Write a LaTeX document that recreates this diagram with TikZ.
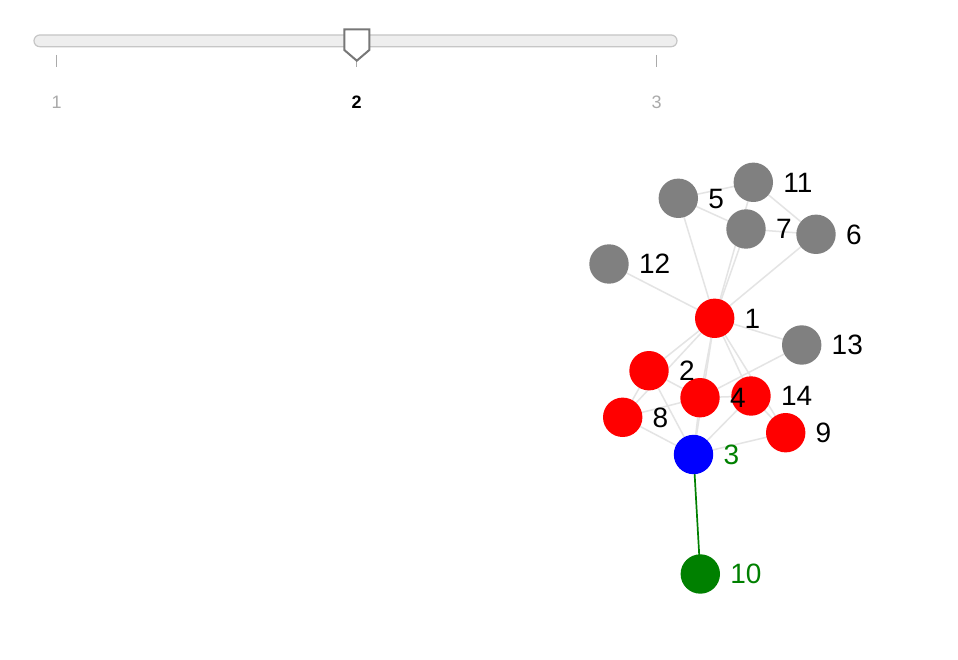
\documentclass[tikz,border=0pt]{standalone}
\usepackage{fontspec}
\setmainfont{Liberation Sans}
\definecolor{edgegray}{HTML}{E4E4E4}
\definecolor{nodegray}{HTML}{808080}
\definecolor{dgreen}{HTML}{008000}
\definecolor{trackfill}{HTML}{EEEEEE}
\definecolor{trackline}{HTML}{C6C6C6}
\definecolor{tickgray}{HTML}{AAAAAA}
\definecolor{handleline}{HTML}{777777}
\begin{document}
\begin{tikzpicture}[x=1pt,y=-1pt,
  nd/.style={circle,draw=none,minimum size=39.4pt,inner sep=0pt,outer sep=0pt},
  lbl/.style={anchor=base west,inner sep=0pt,outer sep=0pt,font=\fontsize{28}{30}\selectfont},
  edge/.style={draw=edgegray,line width=1.5pt},
  hedge/.style={draw=dgreen,line width=1.7pt},
  tick/.style={draw=tickgray,line width=1pt},
  ticklbl/.style={anchor=base,inner sep=0pt,font=\fontsize{18}{20}\selectfont}]
\useasboundingbox[fill=white] (0,0) rectangle (958,660);

% slider
\draw[fill=trackfill,draw=trackline,line width=1.2pt,rounded corners=5.8pt] (34,35) rectangle (677,46.7);
\coordinate (t1a) at (56.7,55); \coordinate (t1b) at (56.7,66.7);
\coordinate (t2a) at (356.7,55); \coordinate (t2b) at (356.7,66.7);
\coordinate (t3a) at (656.7,55); \coordinate (t3b) at (656.7,66.7);
\draw[tick] (t1a) -- (t1b);
\draw[tick] (t2a) -- (t2b);
\draw[tick] (t3a) -- (t3b);
\draw[fill=white,draw=handleline,line width=2pt,line join=miter]
  (344.3,29.3) -- (369.3,29.3) -- (369.3,50) -- (356.8,60.7) -- (344.3,50) -- cycle;
\node[ticklbl,text=tickgray] (s1) at (56.7,108.3) {1};
\node[ticklbl,text=black,font=\fontsize{18}{20}\selectfont\bfseries] (s2) at (356.7,108.3) {2};
\node[ticklbl,text=tickgray] (s3) at (656.7,108.3) {3};

% node positions
\coordinate (p1) at (714.7,318.3);
\coordinate (p2) at (649,370.7);
\coordinate (p3) at (693.5,454.5);
\coordinate (p4) at (700,397.7);
\coordinate (p5) at (678.3,198.3);
\coordinate (p6) at (816,234.3);
\coordinate (p7) at (746,229);
\coordinate (p8) at (622.7,417.3);
\coordinate (p9) at (785.7,432.7);
\coordinate (p10) at (700.3,574);
\coordinate (p11) at (753.3,182.3);
\coordinate (p12) at (609,264);
\coordinate (p13) at (801.7,345);
\coordinate (p14) at (751,396);

% edges
\foreach \a/\b in {1/2,1/3,1/4,1/5,1/6,1/7,1/8,1/9,1/11,1/12,1/13,1/14,
  2/3,2/4,2/8,3/4,3/8,3/9,3/14,4/8,4/13,4/14,5/7,5/11,6/7,6/11,9/14}
  \draw[edge] (p\a) -- (p\b);
\draw[hedge] (p3) -- (p10);

% nodes
\node[nd,fill=red] (n1) at (p1) {};
\node[nd,fill=red] (n2) at (p2) {};
\node[nd,fill=blue] (n3) at (p3) {};
\node[nd,fill=red] (n4) at (p4) {};
\node[nd,fill=nodegray] (n5) at (p5) {};
\node[nd,fill=nodegray] (n6) at (p6) {};
\node[nd,fill=nodegray] (n7) at (p7) {};
\node[nd,fill=red] (n8) at (p8) {};
\node[nd,fill=red] (n9) at (p9) {};
\node[nd,fill=dgreen] (n10) at (p10) {};
\node[nd,fill=nodegray] (n11) at (p11) {};
\node[nd,fill=nodegray] (n12) at (p12) {};
\node[nd,fill=nodegray] (n13) at (p13) {};
\node[nd,fill=red] (n14) at (p14) {};

% labels
\node[lbl] (l1) at ([xshift=30pt,yshift=-9.8pt]p1) {1};
\node[lbl] (l2) at ([xshift=30pt,yshift=-9.8pt]p2) {2};
\node[lbl,text=dgreen] (l3) at ([xshift=30pt,yshift=-9.8pt]p3) {3};
\node[lbl] (l4) at ([xshift=30pt,yshift=-9.8pt]p4) {4};
\node[lbl] (l5) at ([xshift=30pt,yshift=-9.8pt]p5) {5};
\node[lbl] (l6) at ([xshift=30pt,yshift=-9.8pt]p6) {6};
\node[lbl] (l7) at ([xshift=30pt,yshift=-9.8pt]p7) {7};
\node[lbl] (l8) at ([xshift=30pt,yshift=-9.8pt]p8) {8};
\node[lbl] (l9) at ([xshift=30pt,yshift=-9.8pt]p9) {9};
\node[lbl,text=dgreen] (l10) at ([xshift=30pt,yshift=-9.8pt]p10) {10};
\node[lbl] (l11) at ([xshift=30pt,yshift=-9.8pt]p11) {11};
\node[lbl] (l12) at ([xshift=30pt,yshift=-9.8pt]p12) {12};
\node[lbl] (l13) at ([xshift=30pt,yshift=-9.8pt]p13) {13};
\node[lbl] (l14) at ([xshift=30pt,yshift=-9.8pt]p14) {14};
\end{tikzpicture}
\end{document}
